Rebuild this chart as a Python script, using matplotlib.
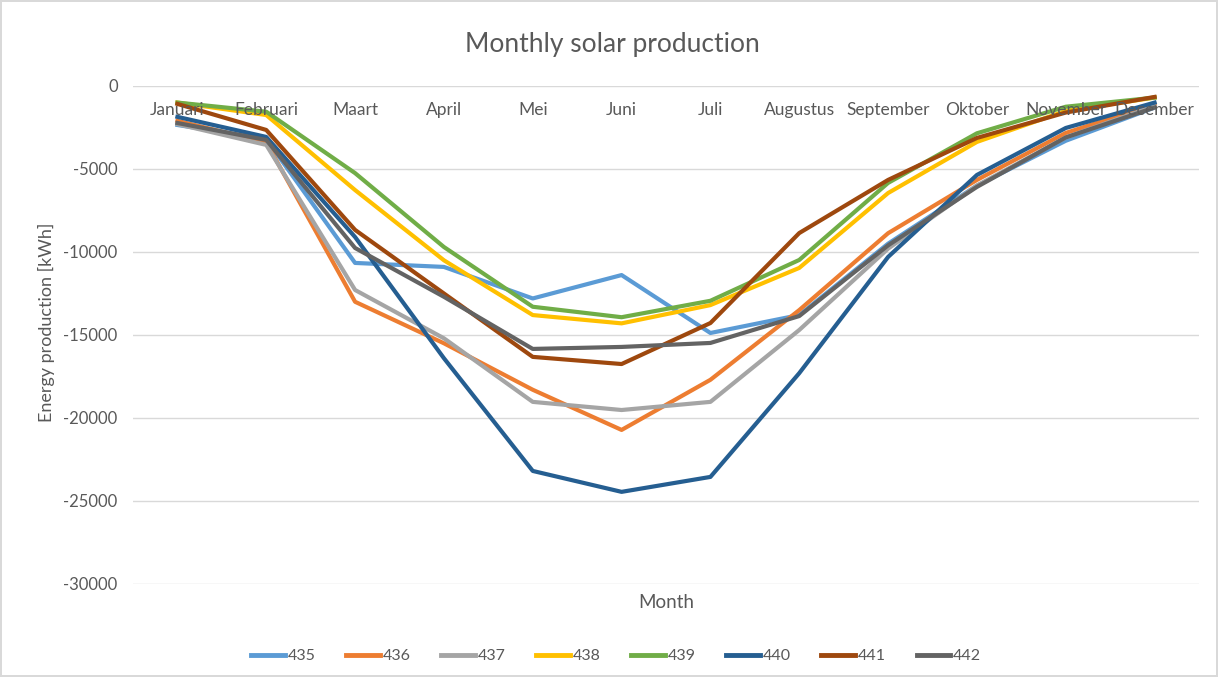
import matplotlib.pyplot as plt

# monthly production per meter
months = ['Januari', 'Februari', 'Maart', 'April', 'Mei', 'Juni',
          'Juli', 'Augustus', 'September', 'Oktober', 'November', 'December']

p435 = [-2350, -3200, -10660, -10900, -12800, -11390, -14880, -13800, -9500, -6000, -3300, -1300]
p436 = [-2100, -3400, -13000, -15500, -18300, -20720, -17700, -13500, -8870, -5660, -2830, -1100]
p437 = [-2300, -3550, -12290, -15200, -19030, -19520, -19030, -14700, -9800, -6000, -3100, -1200]
p438 = [-1000, -1750, -6270, -10500, -13800, -14300, -13200, -10960, -6450, -3370, -1500, -700]
p439 = [-1000, -1550, -5250, -9700, -13300, -13930, -12940, -10480, -5840, -2850, -1250, -700]
p440 = [-1860, -3070, -9100, -16400, -23190, -24450, -23550, -17300, -10300, -5360, -2530, -1000]
p441 = [-1080, -2650, -8670, -12500, -16320, -16750, -14280, -8860, -5660, -3130, -1600, -660]
p442 = [-2230, -3250, -9760, -12700, -15840, -15720, -15480, -13860, -9600, -6080, -3100, -1300]

series = [('435', p435, '#5B9BD5'), ('436', p436, '#ED7D31'), ('437', p437, '#A5A5A5'),
          ('438', p438, '#FFC000'), ('439', p439, '#70AD47'), ('440', p440, '#255E91'),
          ('441', p441, '#9E480E'), ('442', p442, '#636363')]

plt.rcParams['font.family'] = ['Lato', 'DejaVu Sans']
plt.rcParams['axes.unicode_minus'] = False
txt = '#595959'

fig = plt.figure(figsize=(12.18, 6.77), dpi=100)
fig.patch.set_edgecolor('#d9d9d9')
fig.patch.set_linewidth(1.5)
ax = fig.add_axes([0.1092, 0.1374, 0.8752, 0.7356])

x = list(range(len(months)))
for name, vals, col in series:
    ax.plot(x, vals, color=col, lw=3, label=name, solid_joinstyle='round')

ax.set_xlim(-0.5, 11.5)
ax.set_ylim(-30000, 0)
ax.set_yticks(range(-30000, 1, 5000))
ax.grid(axis='y', color='#d9d9d9', lw=1)
ax.set_axisbelow(True)
for s in ax.spines.values():
    s.set_visible(False)
ax.tick_params(axis='y', length=0, labelsize=12, labelcolor=txt, pad=11)
ax.set_xticks([])

# category labels sit just under the zero line, like Excel does
for i, m in enumerate(months):
    ax.annotate(m, (i, 0), xytext=(0, -17.5), textcoords='offset points',
                ha='center', va='center', fontsize=12.5, color=txt)

ax.set_ylabel('Energy production [kWh]', fontsize=13, color=txt)
ax.yaxis.set_label_coords(-0.073, 0.526)
ax.set_xlabel('Month', fontsize=13.5, color=txt)
ax.xaxis.set_label_coords(0.5, -0.021)
fig.text(0.503, 0.935, 'Monthly solar production', fontsize=19, color=txt,
         ha='center', va='center')

leg = fig.legend(loc='center', bbox_to_anchor=(0.506, 0.031), ncol=8, frameon=False,
                 fontsize=11.5, labelcolor=txt, handlelength=2.1, handletextpad=0.2,
                 columnspacing=1.9)
for h in leg.get_lines():
    h.set_linewidth(3.5)

fig.savefig('out.png', dpi=100)
